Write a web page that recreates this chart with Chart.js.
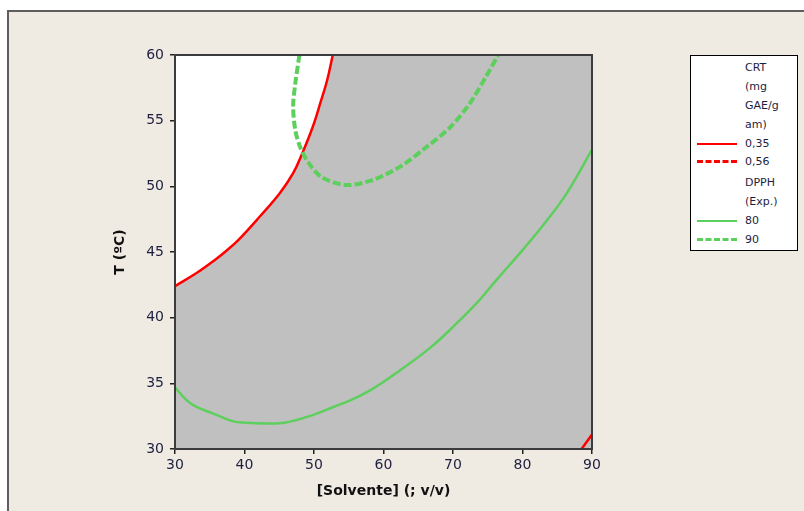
<!DOCTYPE html>
<html>
<head>
<meta charset="utf-8">
<script src="https://cdn.jsdelivr.net/npm/chart.js@4/dist/chart.umd.min.js"></script>
<style>
    body { margin: 0; background: #fff; overflow: hidden; width: 804px; height: 511px; }
    #frame {
        position: absolute; left: 7px; top: 10px; width: 820px; height: 520px;
        background: #EFEBE2; border-left: 2px solid #5e5e5e; border-top: 2px solid #5e5e5e;
    }
    #wrap { position: absolute; left: 0; top: 0; width: 804px; height: 511px; }
    #legend {
        position: absolute; left: 690px; top: 55px; width: 106px; height: 194px;
        background: #fff; border: 1px solid #000;
        font-family: "DejaVu Sans", Verdana, sans-serif; font-size: 11px; color: #1e1e40;
    }
    #legend .row { position: absolute; left: 54px; height: 16px; line-height: 16px; white-space: nowrap; }
    #legend .sample { position: absolute; left: 6px; width: 40px; height: 0; }
</style>
</head>
<body>
<div id="frame"></div>
<div id="wrap"><canvas id="contourChart" width="804" height="511"></canvas></div>
<div id="legend"></div>

<script>
// Axis ticks
const solventeTicks = [30, 40, 50, 60, 70, 80, 90];
const tempTicks = [30, 35, 40, 45, 50, 55, 60];

// CRT (mg GAE/g am) = 0,35 contour
const crt035X = [30, 33.1, 35.5, 37.4, 39.1, 42.2, 45.1, 47.0, 48.3, 49.8, 51.0, 51.9, 52.7];
const crt035Y = [42.4, 43.4, 44.3, 45.1, 45.9, 47.7, 49.5, 51.0, 52.5, 54.5, 56.5, 58.1, 60];
const crt035CornerX = [88.5, 90];
const crt035CornerY = [30, 31.1];

// DPPH (Exp.) = 80 contour
const dpph80X = [30, 31.7, 33.1, 35.5, 38.4, 40.1, 43.0, 45.8, 49.9, 52.8, 55.2, 58.5, 62.4, 66.7, 70.0, 73.4, 76.3, 80.1, 83.5, 86.4, 90];
const dpph80Y = [34.7, 33.7, 33.2, 32.7, 32.1, 32.0, 31.95, 32.0, 32.6, 33.2, 33.7, 34.6, 36.0, 37.7, 39.3, 41.1, 42.9, 45.2, 47.4, 49.5, 52.8];

// DPPH (Exp.) = 90 contour
const dpph90X = [47.9, 47.3, 47.0, 47.3, 48.0, 49.2, 51.1, 54.7, 58.5, 62.4, 66.2, 69.6, 72.4, 74.8, 76.5];
const dpph90Y = [60, 57.8, 56.1, 54.3, 53.0, 51.8, 50.7, 50.1, 50.5, 51.5, 53.0, 54.5, 56.3, 58.4, 60];

// Legend text
const crtTitle = ['CRT', '(mg', 'GAE/g', 'am)'];
const crtLevels = ['0,35', '0,56'];
const dpphTitle = ['DPPH', '(Exp.)'];
const dpphLevels = ['80', '90'];

const RED = '#FF0000';
const GREEN = '#5CCF5C';

function toPoints(xs, ys) {
    return xs.map((x, i) => ({ x: x, y: ys[i] }));
}

// gray background for the plot region, frame around it afterwards
const plotFrame = {
    id: 'plotFrame',
    beforeDraw(chart) {
        const a = chart.chartArea;
        const ctx = chart.ctx;
        ctx.save();
        ctx.fillStyle = '#C0C0C0';
        ctx.fillRect(a.left, a.top, a.right - a.left, a.bottom - a.top);
        ctx.restore();
    },
    afterDraw(chart) {
        const a = chart.chartArea;
        const ctx = chart.ctx;
        ctx.save();
        ctx.strokeStyle = '#3c3c3c';
        ctx.lineWidth = 2;
        ctx.strokeRect(a.left, a.top, a.right - a.left, a.bottom - a.top);
        ctx.restore();
    }
};

const ctx = document.getElementById('contourChart').getContext('2d');
new Chart(ctx, {
    type: 'scatter',
    data: {
        datasets: [
            {
                label: '80',
                data: toPoints(dpph80X, dpph80Y),
                borderColor: GREEN,
                borderWidth: 2.5,
                tension: 0.4
            },
            {
                label: '90',
                data: toPoints(dpph90X, dpph90Y),
                borderColor: GREEN,
                borderWidth: 4,
                borderDash: [8, 3],
                tension: 0.3
            },
            {
                label: '0,35',
                data: toPoints(crt035X, crt035Y),
                borderColor: RED,
                borderWidth: 2.5,
                backgroundColor: '#FFFFFF',
                fill: 'end',
                tension: 0.4
            },
            {
                label: '0,35',
                data: toPoints(crt035CornerX, crt035CornerY),
                borderColor: RED,
                borderWidth: 2.5
            }
        ]
    },
    options: {
        responsive: false,
        animation: false,
        devicePixelRatio: 1,
        showLine: true,
        elements: { point: { radius: 0, hoverRadius: 0 } },
        layout: { padding: { left: 112, top: 55, right: 212, bottom: 11 } },
        plugins: {
            legend: { display: false },
            tooltip: { enabled: false },
            filler: { drawTime: 'beforeDatasetsDraw' }
        },
        scales: {
            x: {
                type: 'linear',
                min: 30,
                max: 90,
                afterBuildTicks: s => { s.ticks = solventeTicks.map(v => ({ value: v })); },
                afterFit: s => { s.height = 51; },
                border: { display: false },
                grid: { drawOnChartArea: false, tickLength: 5, tickColor: '#222', lineWidth: 1.5 },
                ticks: {
                    color: '#1e1e40',
                    padding: 3,
                    maxRotation: 0,
                    font: { family: 'DejaVu Sans', size: 14 }
                },
                title: {
                    display: true,
                    text: '[Solvente] (; v/v)',
                    color: '#111',
                    padding: { top: 0, bottom: 0 },
                    font: { family: 'DejaVu Sans', size: 14, weight: 'bold' }
                }
            },
            y: {
                type: 'linear',
                min: 30,
                max: 60,
                afterBuildTicks: s => { s.ticks = tempTicks.map(v => ({ value: v })); },
                afterFit: s => { s.width = 63; },
                border: { display: false },
                grid: { drawOnChartArea: false, tickLength: 5, tickColor: '#222', lineWidth: 1.5 },
                ticks: {
                    color: '#1e1e40',
                    padding: 6,
                    font: { family: 'DejaVu Sans', size: 14 }
                },
                title: {
                    display: true,
                    text: 'T (ºC)',
                    color: '#111',
                    padding: { top: 0, bottom: 0 },
                    font: { family: 'DejaVu Sans', size: 14, weight: 'bold' }
                }
            }
        }
    },
    plugins: [plotFrame]
});

// legend box: two groups, each a title block followed by line samples
const legend = document.getElementById('legend');
function addRow(text, center) {
    const row = document.createElement('div');
    row.className = 'row';
    row.style.top = (center - 8) + 'px';
    row.textContent = text;
    legend.appendChild(row);
}
function addSample(color, dashed, center) {
    const s = document.createElement('div');
    s.className = 'sample';
    s.style.top = (center - (dashed ? 2 : 1)) + 'px';
    s.style.borderTop = dashed ? '3px dashed ' + color : '2px solid ' + color;
    legend.appendChild(s);
}

let y = 12;
crtTitle.forEach(t => { addRow(t, y); y += 19; });
crtLevels.forEach((t, i) => { addRow(t, y); addSample(RED, i === 1, y); y += 18; });
y += 3;
dpphTitle.forEach(t => { addRow(t, y); y += 19; });
dpphLevels.forEach((t, i) => { addRow(t, y); addSample(GREEN, i === 1, y); y += 19; });
</script>
</body>
</html>
